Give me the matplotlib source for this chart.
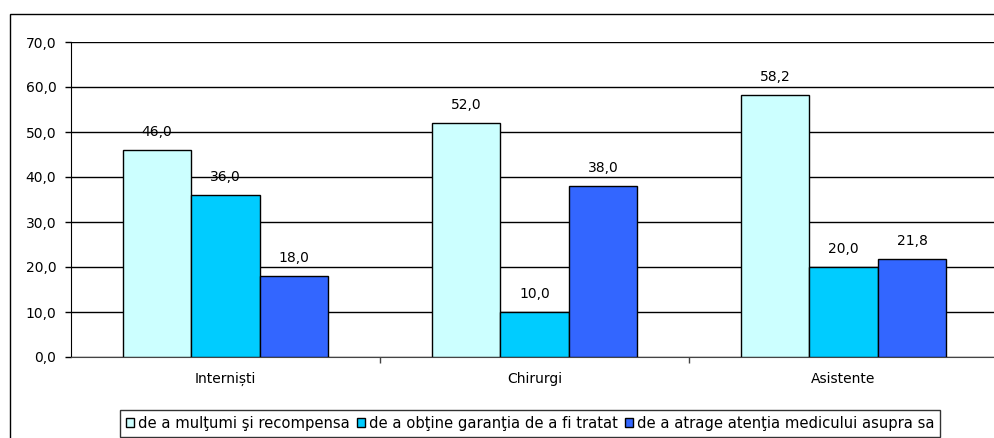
import matplotlib
matplotlib.use("Agg")
import matplotlib.pyplot as plt
from matplotlib.patches import Rectangle
from matplotlib.ticker import FixedLocator, NullFormatter
import numpy as np

plt.rcParams['font.family'] = ['DejaVu Sans']

categories = ["Interniști", "Chirurgi", "Asistente"]
series_names = ["de a mulţumi şi recompensa",
                "de a obţine garanţia de a fi tratat",
                "de a atrage atenţia medicului asupra sa"]
s1 = [46.0, 52.0, 58.2]
s2 = [36.0, 10.0, 20.0]
s3 = [18.0, 38.0, 21.8]
series = [s1, s2, s3]
colors = ["#CCFFFF", "#00CCFF", "#3366FF"]
yticks = [0, 10, 20, 30, 40, 50, 60, 70]
FS = 10
LFS = 10.6

W, H = 995, 438
fig = plt.figure(figsize=(W / 100, H / 100), dpi=100)

# outer chart border
fig.patches.append(Rectangle((10 / W, -0.2), 1.2, 1.2 - 14 / H,
                             transform=fig.transFigure, fill=False,
                             edgecolor="black", linewidth=1.0, clip_on=False))

ax = fig.add_axes([71 / W, 81 / H, 927 / W, 315 / H])
x = np.arange(len(categories))
bw = 0.222
for i, (vals, c) in enumerate(zip(series, colors)):
    pos = x + (i - 1) * bw
    ax.bar(pos, vals, width=bw, color=c, edgecolor="black", linewidth=1.0,
           zorder=3, label=series_names[i])
    for p, v in zip(pos, vals):
        ax.annotate(f"{v:.1f}".replace(".", ","), (p, v), xytext=(0, 13),
                    textcoords="offset points", ha="center", va="center",
                    fontsize=FS, zorder=4)

ax.set_xlim(-0.5, 2.5)
ax.set_ylim(0, 70)
ax.set_yticks(yticks)
ax.set_yticklabels([f"{t:.1f}".replace(".", ",") for t in yticks])
ax.yaxis.grid(True, color="black", linewidth=1.0, zorder=0)
ax.set_axisbelow(True)

ax.set_xticks(x)
ax.set_xticklabels(categories)
ax.xaxis.set_minor_locator(FixedLocator([0.5, 1.5]))
ax.xaxis.set_minor_formatter(NullFormatter())
ax.tick_params(axis="x", which="major", length=0, pad=11, labelsize=FS)
ax.tick_params(axis="x", which="minor", length=4, width=1, color="#444444")
ax.tick_params(axis="y", length=4.5, width=1, pad=6, labelsize=FS)

for s in ["top", "right"]:
    ax.spines[s].set_visible(False)
ax.spines["left"].set_color("black")
ax.spines["bottom"].set_color("#444444")

leg = fig.legend(loc="upper left", bbox_to_anchor=(120 / W, 1 - 410 / H),
                 ncol=3, frameon=True, fancybox=False, fontsize=LFS,
                 handlelength=0.55, handleheight=0.55, handletextpad=0.25,
                 columnspacing=0.5, borderpad=0.4, borderaxespad=0)
leg.get_frame().set_edgecolor("black")
leg.get_frame().set_linewidth(1.0)
for h in leg.legend_handles:
    h.set_linewidth(1.0)

fig.savefig("out.png", dpi=100)
